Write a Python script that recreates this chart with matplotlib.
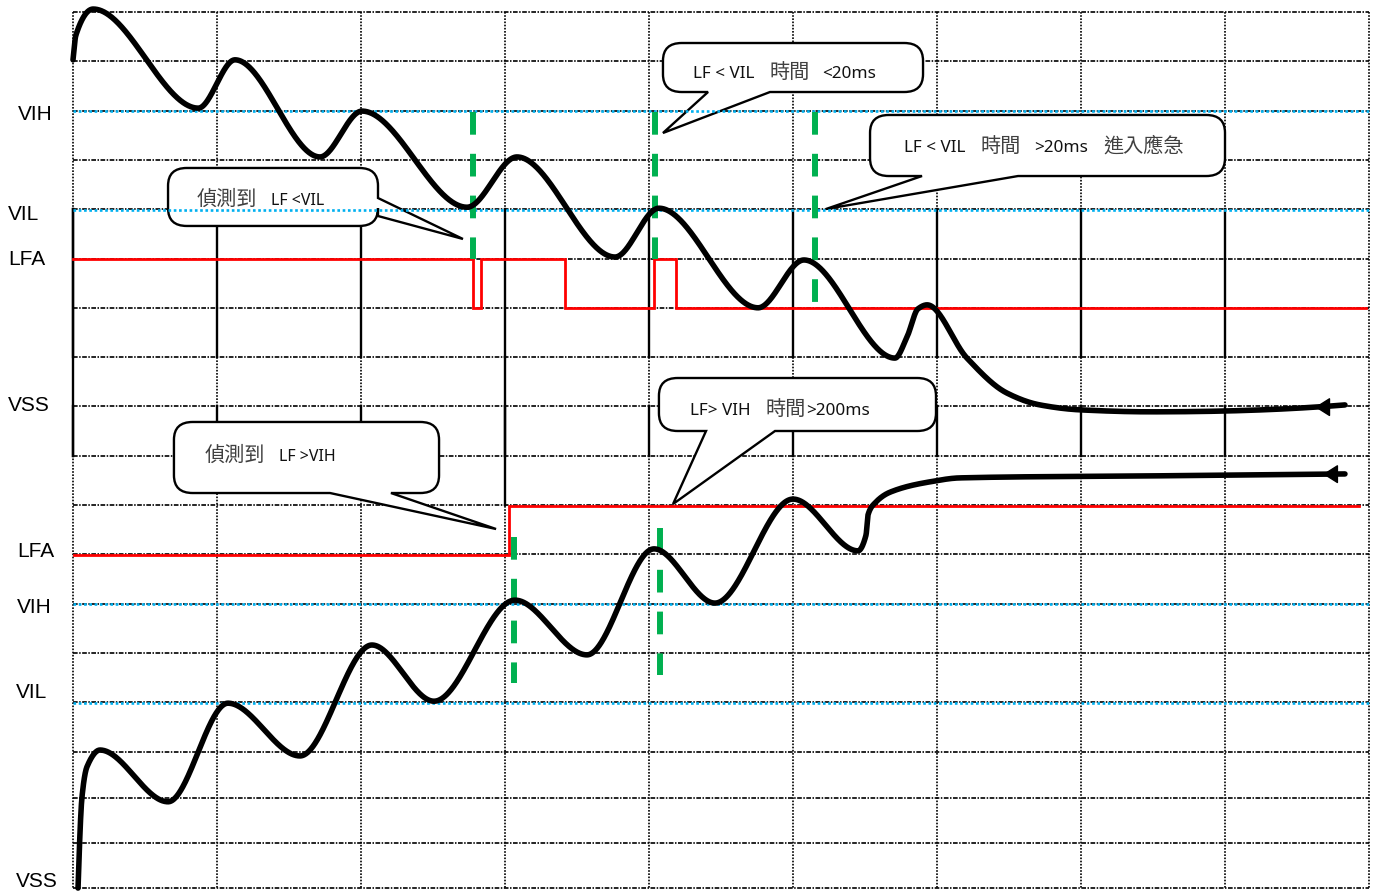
import numpy as np
import matplotlib
matplotlib.use("Agg")
import matplotlib.pyplot as plt
from matplotlib.path import Path
from matplotlib.patches import PathPatch, FancyArrowPatch

# ---------------- data (x: time divisions, y: level divisions, downward) ----------
grid_cols = list(range(10))
grid_rows = list(range(16)) + [15.94, 16.86, 17.77]
vih_levels = [2.01, 12.01]
vil_levels = [4.02, 14.02]

# falling LF waveform (upper trace)
fall_t = [0.00, 0.02, 0.14, 0.87, 1.125, 1.715, 2.007, 2.736, 3.083, 3.764, 4.069,
          4.757, 5.076, 5.708, 5.792, 5.868, 5.931, 6.208, 6.486, 6.715, 6.993, 7.479, 8.833]
fall_v = [0.97, 0.47, -0.06, 1.95, 0.97, 2.94, 2.01, 3.96, 2.94, 4.97, 3.98,
          6.00, 5.03, 7.02, 6.59, 6.02, 5.94, 7.02, 7.73, 7.97, 8.07, 8.11, 7.97]
fall_arrow_t = 8.625

# rising LF waveform (lower trace)
rise_t = [0.035, 0.0625, 0.097, 0.1875, 0.66, 1.076, 1.576, 2.076, 2.507, 3.069, 3.569,
          4.035, 4.458, 5.0, 5.451, 5.507, 5.521, 5.569, 5.674, 5.951, 6.16, 7.479, 8.833]
rise_v = [17.77, 15.92, 15.31, 14.97, 16.02, 14.02, 15.09, 12.84, 13.98, 11.93, 13.04,
          10.89, 11.99, 9.88, 10.93, 10.61, 10.20, 9.96, 9.74, 9.53, 9.45, 9.41, 9.37]
rise_arrow_t = 8.68

# LFA digital outputs
lfa_top_edges = [0.0, 2.78, 2.83, 3.42, 4.035, 4.19, 8.98]
lfa_top_state = [1, 0, 1, 0, 1, 0]
lfa_top_hi, lfa_top_lo = 5.01, 6.0
lfa_bot_edges = [0.01, 3.028, 8.93]
lfa_bot_state = [0, 1]
lfa_bot_hi, lfa_bot_lo = 10.02, 11.01

# green detection markers
green_x = [2.778, 4.042, 5.153, 3.063, 4.076]
green_y0 = [2.03, 2.03, 2.03, 10.65, 10.47]
green_y1 = [5.01, 5.01, 5.90, 13.61, 13.45]

# level labels
level_labels = ["VIH", "VIL", "LFA", "VSS", "LFA", "VIH", "VIL", "VSS"]
level_label_x = [-0.382, -0.451, -0.451, -0.451, -0.389, -0.389, -0.396, -0.396]
level_label_y = [2.07, 4.10, 5.03, 7.99, 10.95, 12.07, 13.81, 17.63]

# callouts: box (x0, x1, y0, y1), wedge side, wedge base pair, tip
callouts = [
    dict(box=(0.66, 2.118, 3.164, 4.34), side="right", base=(3.773, 4.138), tip=(2.708, 4.604),
         text=[(0.861, "偵測到", "cjk"), (1.375, "LF <VIL", "lat_s")], base_y=3.915),
    dict(box=(4.097, 5.903, 0.629, 1.623), side="bottom", base=(4.41, 4.84), tip=(4.097, 2.454),
         text=[(4.306, "LF < VIL", "lat"), (4.840, "時間", "cjk"), (5.201, "<20ms", "lat")], base_y=1.339),
    dict(box=(5.535, 8.0, 2.089, 3.327), side="bottom", base=(5.896, 6.563), tip=(5.229, 3.996),
         text=[(5.771, "LF < VIL", "lat"), (6.299, "時間", "cjk"), (6.674, ">20ms", "lat"),
               (7.153, "進入應急", "cjk")], base_y=2.84),
    dict(box=(0.701, 2.542, 8.316, 9.757), side="bottom", base=(1.785, 2.208), tip=(2.938, 10.487),
         text=[(0.917, "偵測到", "cjk"), (1.431, "LF >VIH", "lat_s")], base_y=9.108),
    dict(box=(4.069, 5.993, 7.424, 8.499), side="bottom", base=(4.396, 4.875), tip=(4.167, 9.98),
         text=[(4.285, "LF> VIH", "lat"), (4.806, "時間", "cjk"), (5.090, ">200ms", "lat")], base_y=8.174),
]


# ---------------- helpers ----------------
def pchip(xk, yk, xs):
    xk = np.asarray(xk, float); yk = np.asarray(yk, float)
    h = np.diff(xk); d = np.diff(yk) / h
    n = len(xk); m = np.zeros(n)
    for k in range(1, n - 1):
        if d[k - 1] * d[k] > 0:
            w1 = 2 * h[k] + h[k - 1]; w2 = h[k] + 2 * h[k - 1]
            m[k] = (w1 + w2) / (w1 / d[k - 1] + w2 / d[k])
    def endpt(h0, h1, d0, d1):
        mm = ((2 * h0 + h1) * d0 - h0 * d1) / (h0 + h1)
        if np.sign(mm) != np.sign(d0):
            mm = 0.0
        elif np.sign(d0) != np.sign(d1) and abs(mm) > 3 * abs(d0):
            mm = 3 * d0
        return mm
    m[0] = endpt(h[0], h[1], d[0], d[1])
    m[-1] = endpt(h[-1], h[-2], d[-1], d[-2])
    idx = np.clip(np.searchsorted(xk, xs) - 1, 0, n - 2)
    t = (xs - xk[idx]) / h[idx]
    h00 = 2 * t**3 - 3 * t**2 + 1; h10 = t**3 - 2 * t**2 + t
    h01 = -2 * t**3 + 3 * t**2; h11 = t**3 - t**2
    return h00 * yk[idx] + h10 * h[idx] * m[idx] + h01 * yk[idx + 1] + h11 * h[idx] * m[idx + 1]


def callout_path(box, side, base, tip, rx=0.13, ry=0.36):
    x0, x1, y0, y1 = box
    V = []; C = []
    def mv(p): V.append(p); C.append(Path.MOVETO)
    def ln(p): V.append(p); C.append(Path.LINETO)
    def q(c, p): V.extend([c, p]); C.extend([Path.CURVE3, Path.CURVE3])
    mv((x0 + rx, y0))
    ln((x1 - rx, y0)); q((x1, y0), (x1, y0 + ry))
    if side == "right":
        ln((x1, base[0])); ln(tip); ln((x1, base[1]))
    ln((x1, y1 - ry)); q((x1, y1), (x1 - rx, y1))
    if side == "bottom":
        ln((max(base), y1)); ln(tip); ln((min(base), y1))
    ln((x0 + rx, y1)); q((x0, y1), (x0, y1 - ry))
    ln((x0, y0 + ry)); q((x0, y0), (x0 + rx, y0))
    V.append((x0 + rx, y0)); C.append(Path.CLOSEPOLY)
    return Path(V, C)


# ---------------- figure ----------------
fig = plt.figure(figsize=(13.76, 8.92), dpi=100)
ax = fig.add_axes([0, 0, 1, 1])
ax.set_xlim(-73 / 144, (1376 - 73) / 144)
ax.set_ylim((892 - 12) / 49.3, -12 / 49.3)
ax.axis("off")

xmin, xmax = grid_cols[0], grid_cols[-1]
ymin, ymax = grid_rows[0], grid_rows[-1]

# horizontal grid (dash-dot)
for r in grid_rows:
    ax.plot([xmin, xmax], [r, r], color="black", lw=1.2, ls=(0, (2.8, 0.9, 0.9, 0.9)), zorder=1)
# vertical grid (dotted) with solid stretches
for c in grid_cols:
    ax.plot([c, c], [ymin, ymax], color="black", lw=1.2, ls=(0, (1, 0.9)), zorder=1)
for c in grid_cols[:-1]:
    ax.plot([c, c], [4, 7], color="black", lw=1.7, zorder=1)
    ax.plot([c, c], [8, 9], color="black", lw=1.7, zorder=1)
ax.plot([0, 0], [4, 9], color="black", lw=1.7, zorder=1)
ax.plot([3, 3], [7, 10], color="black", lw=1.7, zorder=1)

# callouts
for co in callouts:
    p = callout_path(co["box"], co["side"], co["base"], co["tip"])
    ax.add_patch(PathPatch(p, facecolor="white", edgecolor="black", lw=1.7, zorder=2.5,
                           joinstyle="miter"))
    for (tx, s, kind) in co["text"]:
        if kind == "cjk":
            ax.text(tx, co["base_y"], s, family=["Noto Sans CJK TC"], fontsize=14.5,
                    color="#404040", va="baseline", ha="left", zorder=8)
        else:
            ax.text(tx, co["base_y"], s, family=["Noto Sans", "DejaVu Sans"],
                    fontsize=11.5 if kind == "lat_s" else 12.3,
                    color="#111111", va="baseline", ha="left", zorder=8)

# VIH / VIL thresholds (blue dotted)
for lv in vih_levels + vil_levels:
    ax.plot([xmin, xmax], [lv, lv], color="#00B0F0", lw=1.9, ls=(0, (1, 1)), zorder=3)

# LFA outputs (red)
def step_xy(edges, states, hi, lo):
    xs, ys = [], []
    for i, s in enumerate(states):
        lvl = hi if s else lo
        xs += [edges[i], edges[i + 1]]
        ys += [lvl, lvl]
    return xs, ys

xs, ys = step_xy(lfa_top_edges, lfa_top_state, lfa_top_hi, lfa_top_lo)
ax.plot(xs, ys, color="#FF0000", lw=2.0, zorder=4, solid_joinstyle="miter")
xs, ys = step_xy(lfa_bot_edges, lfa_bot_state, lfa_bot_hi, lfa_bot_lo)
ax.plot(xs, ys, color="#FF0000", lw=2.0, zorder=4, solid_joinstyle="miter")

# green dashed markers
for gx, g0, g1 in zip(green_x, green_y0, green_y1):
    ax.plot([gx, gx], [g0, g1], color="#00B050", lw=4.3, ls=(0, (3.8, 3.2)),
            dash_capstyle="butt", zorder=5)

# waveforms
for tk, vk, at in [(fall_t, fall_v, fall_arrow_t), (rise_t, rise_v, rise_arrow_t)]:
    xs = np.linspace(tk[0], tk[-1], 3000)
    ys = pchip(tk, vk, xs)
    ax.plot(xs, ys, color="black", lw=4.0, solid_capstyle="round", zorder=6)
    ay = float(pchip(tk, vk, np.array([at]))[0])
    arr = FancyArrowPatch((at + 0.12, ay), (at, ay),
                          arrowstyle="-|>,head_length=0.95,head_width=0.6",
                          mutation_scale=10, color="black", lw=1, zorder=6.5,
                          shrinkA=0, shrinkB=0)
    ax.add_patch(arr)

# level labels
for s, lx, ly in zip(level_labels, level_label_x, level_label_y):
    ax.text(lx, ly, s, family=["Liberation Sans", "DejaVu Sans"], fontsize=15,
            color="black", va="center", ha="left", zorder=8)

fig.savefig("out.png", dpi=100)
